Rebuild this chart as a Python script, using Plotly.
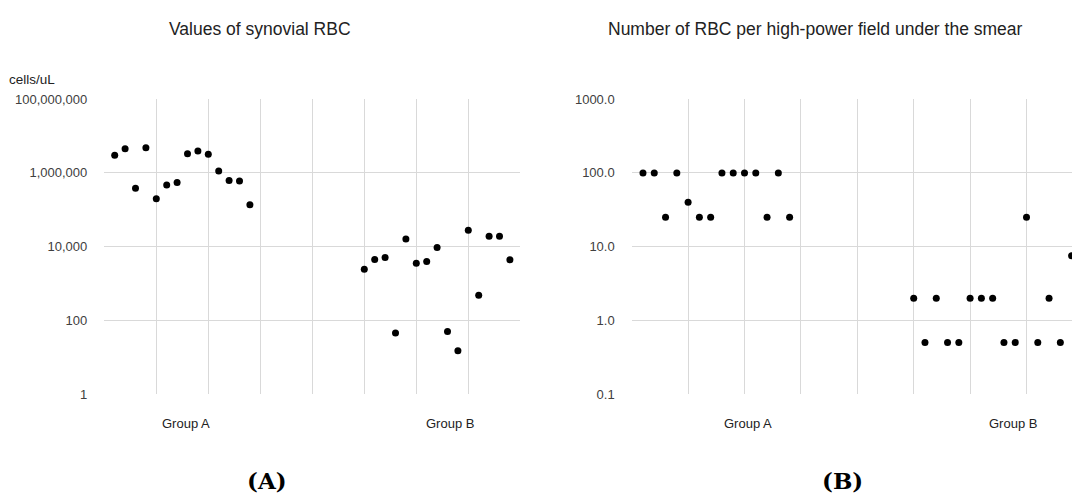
import plotly.graph_objects as go

W, H = 1072, 501

# ---- data ----
idx_a = list(range(1, 15))
idx_b = list(range(25, 40))

rbc_a = [3.0e6, 4.5e6, 3.8e5, 4.8e6, 2.0e5, 4.7e5, 5.5e5, 3.3e6, 3.9e6, 3.2e6,
         1.13e6, 6.2e5, 6.0e5, 1.36e5]
rbc_b = [2440, 4470, 5050, 45, 16000, 3510, 3960, 9400, 50, 15, 28000, 480,
         19000, 19000, 4400]

hpf_a = [100, 100, 25, 100, 40, 25, 25, 100, 100, 100, 100, 25, 100, 25]
hpf_b = [2, 0.5, 2, 0.5, 0.5, 2, 2, 2, 0.5, 0.5, 25, 0.5, 2, 0.5, 7.5]

rbc_ticks = [1, 100, 1e4, 1e6, 1e8]
rbc_ticktext = ["1", "100", "10,000", "1,000,000", "100,000,000"]
hpf_ticks = [0.1, 1, 10, 100, 1000]
hpf_ticktext = ["0.1", "1.0", "10.0", "100.0", "1000.0"]

titles = ["Values of synovial RBC",
          "Number of RBC per high-power field under the smear"]
groups = ["Group A", "Group B"]
panel_labels = ["(A)", "(B)"]

# ---- figure ----
FONT = "Liberation Sans, Arial, sans-serif"
GRID = "#d9d9d9"
TXT = "#404040"


def px(x):
    return x / W


def py(y):
    return 1 - y / H


marker = dict(color="black", size=7)
fig = go.Figure()
fig.add_trace(go.Scatter(x=idx_a + idx_b, y=rbc_a + rbc_b, mode="markers",
                         marker=marker, xaxis="x", yaxis="y",
                         showlegend=False, cliponaxis=False))
fig.add_trace(go.Scatter(x=idx_a + idx_b, y=hpf_a + hpf_b, mode="markers",
                         marker=marker, xaxis="x2", yaxis="y2",
                         showlegend=False, cliponaxis=False))

ydom = [py(399), py(95)]
xcommon = dict(showgrid=True, gridcolor=GRID, gridwidth=1, dtick=5, tick0=0,
               showticklabels=False, zeroline=False, showline=False,
               ticks="", fixedrange=True)
ycommon = dict(type="log", showgrid=True, gridcolor=GRID, gridwidth=1,
               zeroline=False, showline=False, ticks="",
               tickfont=dict(family=FONT, size=13, color=TXT),
               ticklabelstandoff=16, tickmode="array", fixedrange=True)

step2 = 11.28
fig.update_layout(
    width=W, height=H,
    margin=dict(l=0, r=0, t=0, b=0),
    paper_bgcolor="white", plot_bgcolor="white",
    hovermode=False,
    xaxis=dict(domain=[px(104.3), px(520.3)], range=[0, 40], anchor="y",
               **xcommon),
    yaxis=dict(domain=ydom, range=[0, 8], tickvals=rbc_ticks,
               ticktext=rbc_ticktext, anchor="x", **ycommon),
    xaxis2=dict(domain=[px(631.7), 1.0],
                range=[0, (W - 631.7) / step2],
                anchor="y2", **xcommon),
    yaxis2=dict(domain=ydom, range=[-1, 3], tickvals=hpf_ticks,
                ticktext=hpf_ticktext, anchor="x2", **ycommon),
)

ann = []


def label(text, x, y, size, family=FONT, color="#222", xanchor="center"):
    ann.append(dict(text=text, x=px(x), y=py(y), xref="paper", yref="paper",
                    xanchor=xanchor, yanchor="middle", showarrow=False,
                    font=dict(family=family, size=size, color=color)))


label(titles[0], 260, 23, 17.5)
label(titles[1], 815, 23, 17.5)
label("cells/uL", 7, 75, 13.5, xanchor="left")
for cx, g in zip([185.7, 450, 748, 1013], groups * 2):
    label(g, cx, 429, 13)
for cx, lab in zip([267, 842], panel_labels):
    label("<b>" + lab + "</b>", cx, 488, 23,
          family="DejaVu Serif, Liberation Serif, serif", color="black")
fig.update_layout(annotations=ann)

# remove the default page margin so the figure sits at the window's top-left
fig.write_html(
    "out.html",
    config={"displayModeBar": False, "staticPlot": True},
    post_script="document.body.style.margin='0';"
                "document.body.style.overflow='hidden';",
)
